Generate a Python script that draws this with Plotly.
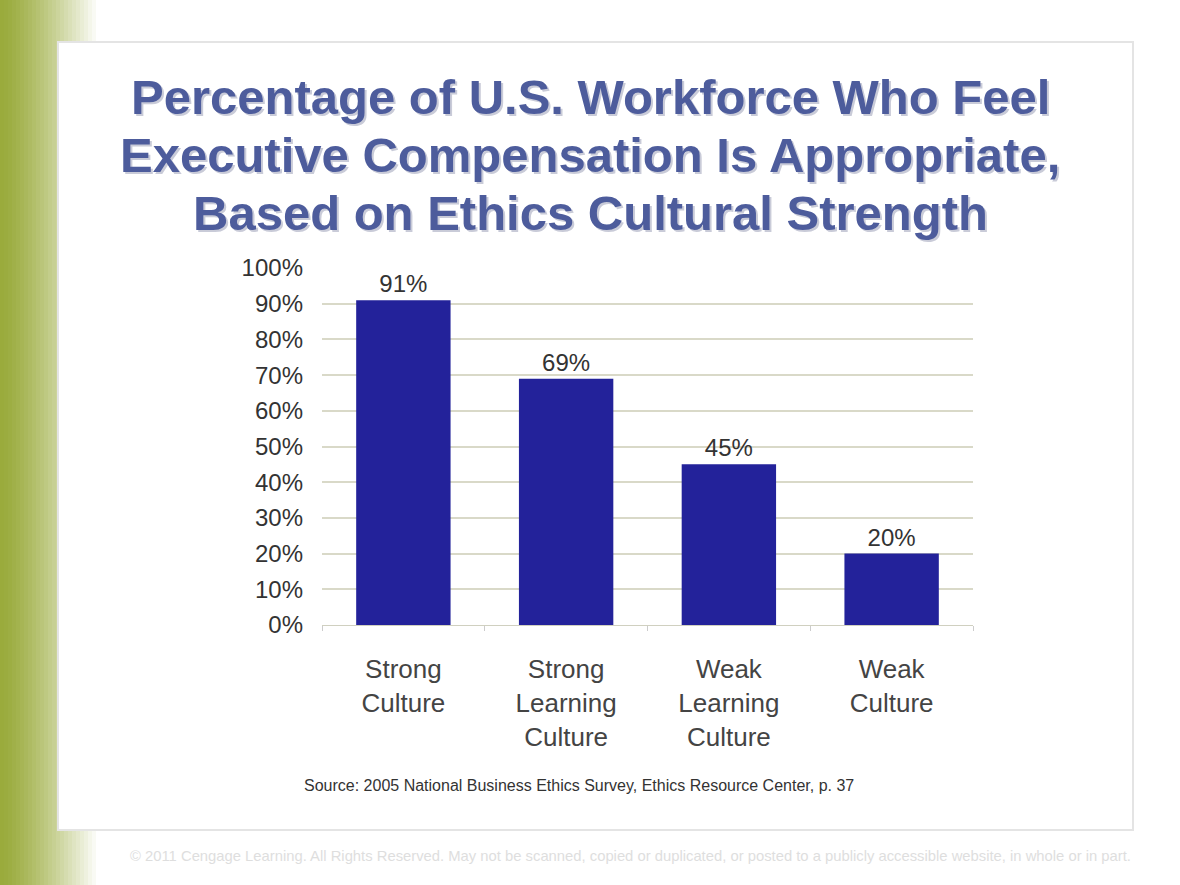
import plotly.graph_objects as go

# data
categories = ["Strong<br>Culture", "Strong<br>Learning<br>Culture", "Weak<br>Learning<br>Culture", "Weak<br>Culture"]
values = [91, 69, 45, 20]
y_ticks = list(range(0, 101, 10))
y_tick_labels = [f"{v}%" for v in y_ticks]

title_lines = [
    "Percentage of U.S. Workforce Who Feel",
    "Executive Compensation Is Appropriate,",
    "Based on Ethics Cultural Strength",
]
source = "Source: 2005 National Business Ethics Survey, Ethics Resource Center, p. 37"
footer = ("© 2011 Cengage Learning. All Rights Reserved. May not be scanned, copied or duplicated, "
          "or posted to a publicly accessible website, in whole or in part.")

W, H = 1180, 885
L, R, T, B = 322, 207, 268, 260
PW, PH = W - L - R, H - T - B
FONT = "Liberation Sans, Arial, sans-serif"


def px(x):
    return (x - L) / PW


def py(y):
    return 1 - (y - T) / PH


fig = go.Figure()
fig.add_trace(go.Bar(
    x=categories, y=values,
    marker=dict(color="#23229a", line=dict(width=0)),
    text=[f"{v}%" for v in values], textposition="outside",
    textfont=dict(family=FONT, size=24, color="#333333"),
    cliponaxis=False,
))

shapes = []
# green gradient strip on the left
steps = 25
for i in range(steps):
    t = i / (steps - 1)
    r = int(154 + (255 - 154) * t ** 1.3)
    g = int(171 + (255 - 171) * t ** 1.3)
    b = int(60 + (255 - 60) * t ** 1.3)
    shapes.append(dict(type="rect", xref="paper", yref="paper", layer="below",
                       x0=px(i * 4), x1=px(i * 4 + 4.5), y0=py(0), y1=py(H),
                       fillcolor=f"rgb({r},{g},{b})", line=dict(width=0)))
# slide frame
shapes.append(dict(type="rect", xref="paper", yref="paper", layer="below",
                   x0=px(58), x1=px(1133), y0=py(42), y1=py(830),
                   fillcolor="white", line=dict(color="#e4e4e4", width=2)))

annotations = []
for i, line in enumerate(title_lines):
    yy = 97 + 58 * i
    annotations.append(dict(text=f"<b>{line}</b>", xref="paper", yref="paper",
                            x=px(592), y=py(yy + 2), xanchor="center", yanchor="middle",
                            showarrow=False, font=dict(family=FONT, size=49, color="#c9cbd8")))
    annotations.append(dict(text=f"<b>{line}</b>", xref="paper", yref="paper",
                            x=px(590), y=py(yy), xanchor="center", yanchor="middle",
                            showarrow=False, font=dict(family=FONT, size=49, color="#4d5c9c")))
annotations.append(dict(text=source, xref="paper", yref="paper", x=px(579), y=py(785),
                        xanchor="center", yanchor="middle",
                        showarrow=False, font=dict(family=FONT, size=16, color="#333333")))
annotations.append(dict(text=footer, xref="paper", yref="paper", x=px(630), y=py(856),
                        xanchor="center", yanchor="middle",
                        showarrow=False, font=dict(family=FONT, size=14.8, color="#dedede")))

fig.update_layout(
    width=W, height=H,
    margin=dict(l=L, r=R, t=T, b=B),
    paper_bgcolor="white",
    plot_bgcolor="#eeeedf",
    showlegend=False,
    bargap=0.42,
    shapes=shapes,
    annotations=annotations,
)
fig.update_yaxes(
    range=[0, 100], tickvals=y_ticks, ticktext=y_tick_labels,
    showgrid=True, gridcolor="#d9d9c8", gridwidth=2, zeroline=False,
    tickfont=dict(family=FONT, size=24, color="#333333"),
    ticks="", ticklabelstandoff=18,
)
fig.update_xaxes(
    tickson="boundaries", ticks="outside", ticklen=5, tickcolor="#cccccc",
    showline=True, linecolor="#d0d0c0", linewidth=1,
    tickfont=dict(family=FONT, size=26, color="#444444"),
    ticklabelstandoff=21,
)

fig.write_html("out.html", config={"displayModeBar": False},
               post_script="document.body.style.margin='0';")
